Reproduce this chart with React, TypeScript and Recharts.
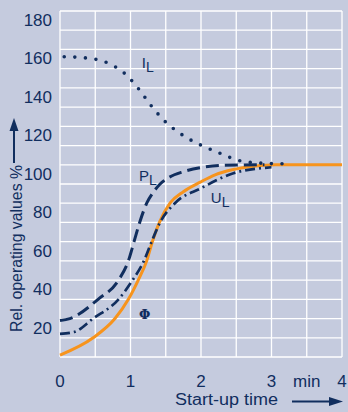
import { CartesianGrid, Line, LineChart, ReferenceDot, XAxis, YAxis } from "recharts";

// start-up curves, time in min, values in % of rated
const currentTime = [0.06, 0.36, 0.66, 0.92, 1.12, 1.3, 1.5, 1.74, 2.0, 2.27, 2.55, 2.87, 3.17];
const currentValue = [156.2, 155.6, 153.2, 147.4, 139.3, 130.4, 122.2, 115.4, 110.2, 106.0, 102.1, 100.8, 100.5];

const powerTime = [0, 0.14, 0.54, 0.83, 0.97, 1.05, 1.13, 1.23, 1.32, 1.42, 1.55, 1.75, 2.03, 2.32, 2.9];
const powerValue = [19, 20, 30, 40, 50, 60, 70, 80, 85.5, 90, 93.5, 96.4, 98.7, 99.7, 100];

const voltageTime = [0, 0.2, 0.47, 0.83, 1.03, 1.19, 1.3, 1.42, 1.63, 2.0, 2.46, 3.0];
const voltageValue = [12, 13, 20, 30, 40, 50, 60, 70, 80, 87.8, 95.6, 98.7];

const fluxTime = [0, 0.47, 0.78, 0.97, 1.11, 1.23, 1.31, 1.41, 1.56, 1.75, 1.99, 2.2, 2.46, 2.75, 3.05, 4];
const fluxValue = [1, 10, 20, 30, 40, 50, 60, 70, 80, 86, 91, 94.8, 97.5, 99.2, 100, 100];

const xTicks = [0, 0.5, 1, 1.5, 2, 2.5, 3, 3.5, 4];
const xTickLabels = ["0", "", "1", "", "2", "", "3", "min", "4"];
const yTicks = [0, 10, 20, 30, 40, 50, 60, 70, 80, 90, 100, 110, 120, 130, 140, 150, 160, 170, 180];

const curveLabels = [
  { main: "I", sub: "L", t: 1.16, v: 150.3 },
  { main: "P", sub: "L", t: 1.12, v: 91.7 },
  { main: "U", sub: "L", t: 2.14, v: 80 },
];

const toPoints = (ts: number[], vs: number[]) => ts.map((t, i) => ({ t, v: vs[i] }));

const currentData = toPoints(currentTime, currentValue);
const powerData = toPoints(powerTime, powerValue);
const voltageData = toPoints(voltageTime, voltageValue);
const fluxData = toPoints(fluxTime, fluxValue);

const NAVY = "#112e5e";
const ORANGE = "#f7941d";
const BG = "#c5cbde";
const FONT = "'Liberation Sans', Arial, Helvetica, sans-serif";

const XTick = (props: any) => {
  const { x, y, payload } = props;
  const idx = xTicks.indexOf(payload.value);
  return (
    <text x={x} y={y + 30} textAnchor="middle" fill={NAVY} fontSize={17} fontFamily={FONT}>
      {idx >= 0 ? xTickLabels[idx] : ""}
    </text>
  );
};

const YTick = (props: any) => {
  const { x, y, payload } = props;
  const v = payload.value;
  if (v === 0 || v % 20 !== 0) return <g />;
  return (
    <text x={x - 8} y={y + 15} textAnchor="end" fill={NAVY} fontSize={17} fontFamily={FONT}>
      {v}
    </text>
  );
};

const SubLabel = ({ cx, cy, main, sub }: any) => (
  <text x={cx} y={cy} fill={NAVY} fontSize={15} fontFamily={FONT}>
    {main}
    <tspan dy={4} fontSize={14}>
      {sub}
    </tspan>
  </text>
);

const PhiLabel = ({ cx, cy }: any) => (
  <text x={cx} y={cy} fill={NAVY} fontSize={13} fontWeight="bold" fontFamily="'DejaVu Serif', serif">
    Φ
  </text>
);

export default function App() {
  return (
    <div style={{ position: "fixed", left: 0, top: 0, width: 348, height: 412, background: BG }}>
      <LineChart width={348} height={412} margin={{ top: 11, right: 6, bottom: 25, left: 0 }}>
        <CartesianGrid stroke="#ffffff" strokeWidth={1.3} />
        <XAxis
          type="number"
          dataKey="t"
          domain={[0, 4]}
          ticks={xTicks}
          interval={0}
          height={30}
          axisLine={false}
          tickLine={false}
          tickSize={0}
          tickMargin={0}
          tick={<XTick />}
        />
        <YAxis
          type="number"
          domain={[0, 180]}
          ticks={yTicks}
          interval={0}
          width={60}
          axisLine={false}
          tickLine={false}
          tickSize={0}
          tickMargin={0}
          tick={<YTick />}
        />
        <Line
          data={fluxData}
          dataKey="v"
          type="monotone"
          stroke={ORANGE}
          strokeWidth={3}
          dot={false}
          activeDot={false}
          isAnimationActive={false}
        />
        <Line
          data={powerData}
          dataKey="v"
          type="monotone"
          stroke={NAVY}
          strokeWidth={3}
          strokeDasharray="13 6"
          dot={false}
          activeDot={false}
          isAnimationActive={false}
        />
        <Line
          data={voltageData}
          dataKey="v"
          type="monotone"
          stroke={NAVY}
          strokeWidth={2.7}
          strokeDasharray="10 4 2 4"
          dot={false}
          activeDot={false}
          isAnimationActive={false}
        />
        <Line
          data={currentData}
          dataKey="v"
          type="monotone"
          stroke={NAVY}
          strokeWidth={3.6}
          strokeDasharray="0 10.6"
          strokeLinecap="round"
          dot={false}
          activeDot={false}
          isAnimationActive={false}
        />
        {curveLabels.map((l) => (
          <ReferenceDot
            key={l.main}
            x={l.t}
            y={l.v}
            r={0}
            shape={(p: any) => <SubLabel cx={p.cx} cy={p.cy} main={l.main} sub={l.sub} />}
          />
        ))}
        <ReferenceDot x={1.12} y={20} r={0} shape={(p: any) => <PhiLabel cx={p.cx} cy={p.cy} />} />
      </LineChart>
      <svg
        width={348}
        height={412}
        style={{ position: "absolute", left: 0, top: 0, pointerEvents: "none" }}
      >
        <text
          x={22}
          y={248.5}
          transform="rotate(-90 22 248.5)"
          textAnchor="middle"
          textLength={167}
          lengthAdjust="spacingAndGlyphs"
          fill={NAVY}
          fontSize={16}
          fontFamily={FONT}
        >
          Rel. operating values %
        </text>
        <line x1={14} y1={163} x2={14} y2={128} stroke={NAVY} strokeWidth={2} />
        <polygon points="14,118 9.5,131 18.5,131" fill={NAVY} />
        <text
          x={175}
          y={405}
          textLength={103}
          lengthAdjust="spacingAndGlyphs"
          fill={NAVY}
          fontSize={16}
          fontFamily={FONT}
        >
          Start-up time
        </text>
        <line x1={292} y1={401.5} x2={331} y2={401.5} stroke={NAVY} strokeWidth={2} />
        <polygon points="343,401.5 329,397 329,406" fill={NAVY} />
      </svg>
    </div>
  );
}
